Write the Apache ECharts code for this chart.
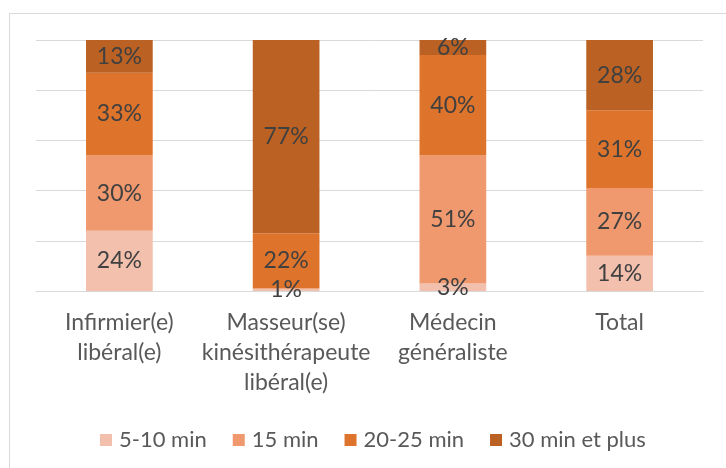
<!DOCTYPE html>
<html>
<head>
<meta charset="utf-8">
<script src="https://cdn.jsdelivr.net/npm/echarts@6/dist/echarts.min.js"></script>
<style>
html,body{margin:0;padding:0;background:#fff;}
#chart{width:726px;height:468px;}
</style>
</head>
<body>
<div id="chart"></div>
<script>
const categories = ["Infirmier(e)\nlibéral(e)", "Masseur(se)\nkinésithérapeute\nlibéral(e)", "Médecin\ngénéraliste", "Total"];
const seriesNames = ["5-10 min", "15 min", "20-25 min", "30 min et plus"];
const v5to10 = [24, 1, 3, 14];
const v15 = [30, 0, 51, 27];
const v20to25 = [33, 22, 40, 31];
const v30plus = [13, 77, 6, 28];
const colors = ["#F4C0AE", "#F0996E", "#DE742C", "#BA6123"];
const values = [v5to10, v15, v20to25, v30plus];

const FONT = "Lato";
const chart = echarts.init(document.getElementById('chart'));
chart.setOption({
  animation: false,
  backgroundColor: '#fff',
  textStyle: { fontFamily: FONT },
  graphic: [{
    type: 'rect', left: 7, top: 11, silent: true,
    shape: { width: 1000, height: 1000 },
    style: { fill: 'none', stroke: '#d9d9d9', lineWidth: 1 }
  }],
  grid: { left: 36, right: 23, top: 40, bottom: 177, containLabel: false },
  legend: {
    bottom: 17, left: 100, padding: 0,
    itemWidth: 12, itemHeight: 12, itemGap: 26,
    icon: 'rect',
    textStyle: { color: '#595959', fontSize: 22, fontFamily: FONT, padding: [0, 0, 0, 2] },
    data: seriesNames
  },
  xAxis: {
    type: 'category', data: categories,
    axisLine: { lineStyle: { color: '#d9d9d9', width: 1 } },
    axisTick: { show: false },
    axisLabel: { color: '#595959', fontSize: 23, fontFamily: FONT, lineHeight: 30, margin: 17, interval: 0 }
  },
  yAxis: {
    type: 'value', min: 0, max: 100, interval: 20,
    axisLabel: { show: false }, axisLine: { show: false }, axisTick: { show: false },
    splitLine: { lineStyle: { color: '#d9d9d9', width: 1 } }
  },
  series: seriesNames.map((n, i) => ({
    name: n, type: 'bar', stack: 'all', barWidth: '40%',
    itemStyle: { color: colors[i] },
    label: {
      show: true, position: 'inside', color: '#404040', fontSize: 23, fontFamily: FONT,
      formatter: p => p.value > 0 ? p.value + '%' : ''
    },
    data: values[i]
  }))
});
</script>
</body>
</html>
